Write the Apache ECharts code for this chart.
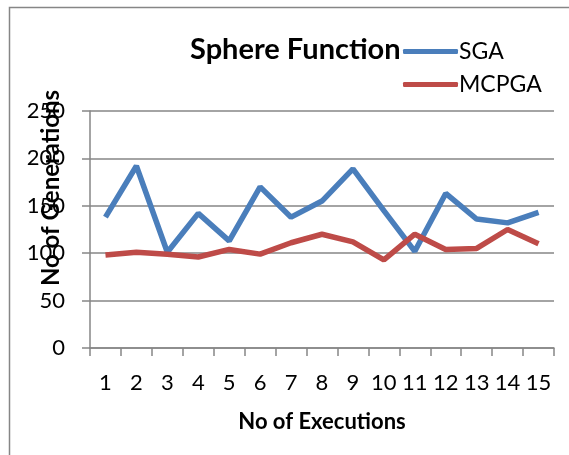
<!DOCTYPE html>
<html>
<head>
<meta charset="utf-8">
<script src="https://cdn.jsdelivr.net/npm/echarts@6/dist/echarts.min.js"></script>
<style>
  html, body { margin: 0; padding: 0; background: #fff; }
  #chart { width: 569px; height: 455px; }
</style>
</head>
<body>
<div id="chart"></div>
<script>
// values
const executions = ['1','2','3','4','5','6','7','8','9','10','11','12','13','14','15'];
const sga   = [138, 192, 101, 142, 113, 170, 138, 155, 189, 145, 102, 163, 136, 132, 143];
const mcpga = [98, 101, 99, 96, 104, 99, 111, 120, 112, 93, 120, 104, 105, 125, 110];

const font = 'Lato, "Open Sans", sans-serif';
const axisGrey = '#868686';

const chart = echarts.init(document.getElementById('chart'));

let option = {
  animation: false,
  backgroundColor: '#fff',
  textStyle: { fontFamily: font, color: '#000' },
  title: {
    text: 'Sphere Function',
    left: 185,
    top: 30,
    textStyle: { fontFamily: font, fontSize: 29, fontWeight: 'bold', color: '#000' }
  },
  legend: {
    orient: 'vertical',
    left: 398,
    top: 35,
    icon: 'roundRect',
    itemWidth: 55,
    itemHeight: 5,
    itemGap: 10,
    textStyle: { fontFamily: font, fontSize: 23, color: '#000', padding: [0, 0, 0, -4] },
    data: ['SGA', 'MCPGA']
  },
  grid: { left: 90, right: 15, top: 111, bottom: 107 },
  xAxis: {
    type: 'category',
    data: executions,
    boundaryGap: true,
    name: 'No of Executions',
    nameLocation: 'middle',
    nameGap: 63,
    nameTextStyle: { fontFamily: font, fontSize: 22, fontWeight: 'bold', color: '#000' },
    axisLine: { lineStyle: { color: axisGrey, width: 1.5 } },
    axisTick: { show: true, alignWithLabel: false, length: 8, lineStyle: { color: axisGrey, width: 1.5 } },
    axisLabel: { fontFamily: font, fontSize: 22, color: '#000', margin: 24, interval: 0 }
  },
  yAxis: {
    type: 'value',
    min: 0,
    max: 250,
    interval: 50,
    axisLine: { show: true, lineStyle: { color: axisGrey, width: 1.5 } },
    axisTick: { show: true, length: 8, lineStyle: { color: axisGrey, width: 1.5 } },
    axisLabel: { fontFamily: font, fontSize: 22, color: '#000', margin: 25 },
    splitLine: { lineStyle: { color: axisGrey, width: 1.5 } }
  },
  graphic: [
    {
      type: 'rect',
      shape: { x: 9.5, y: 7.5, width: 700, height: 600 },
      style: { fill: 'none', stroke: axisGrey, lineWidth: 1.5 },
      silent: true
    },
    {
      type: 'text',
      x: 51,
      y: 188,
      rotation: Math.PI / 2,
      style: {
        text: 'No of Generations',
        fontFamily: font,
        fontSize: 24,
        fontWeight: 'bold',
        fill: '#000',
        align: 'center',
        verticalAlign: 'middle'
      },
      z: 10
    }
  ],
  series: [
    {
      name: 'SGA',
      type: 'line',
      data: sga,
      symbol: 'none',
      lineStyle: { color: '#4a7ebb', width: 5.5 },
      itemStyle: { color: '#4a7ebb' }
    },
    {
      name: 'MCPGA',
      type: 'line',
      data: mcpga,
      symbol: 'none',
      lineStyle: { color: '#be4b48', width: 5.5 },
      itemStyle: { color: '#be4b48' }
    }
  ]
};

chart.setOption(option);
</script>
</body>
</html>
